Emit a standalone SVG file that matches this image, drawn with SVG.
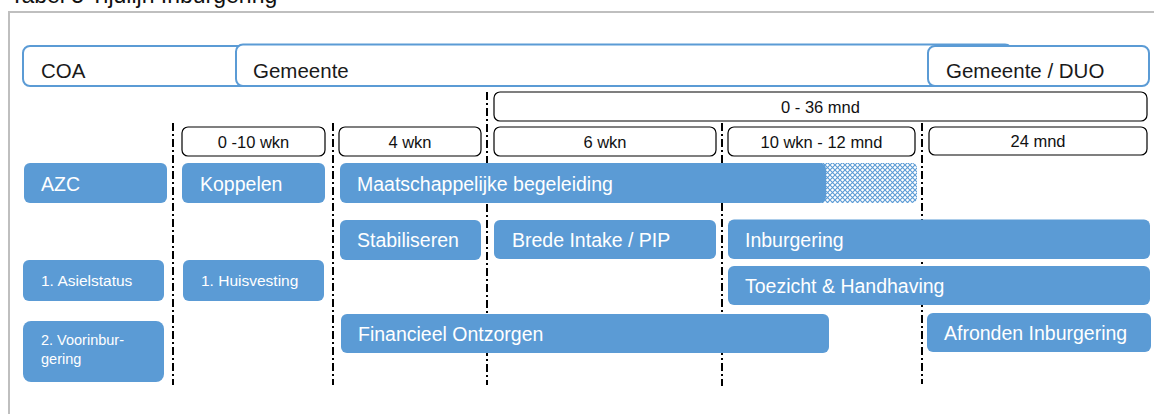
<svg xmlns="http://www.w3.org/2000/svg" width="1154" height="414" viewBox="0 0 1154 414">
<style>
text{font-family:"Liberation Sans",Arial,sans-serif}
.hdr{fill:#fff;stroke:#5B9BD5;stroke-width:2}
.hdrt{font-size:20.5px;fill:#1a1a1a}
.tb{fill:#fff;stroke:#000;stroke-width:1.2}
.tbt{font-size:16.5px;fill:#111;text-anchor:middle}
.bx{fill:#5B9BD5}
.bt{font-size:19.5px;fill:#fff}
.bs{font-size:15.5px;fill:#fff}
.bxs{font-size:14.5px;fill:#fff}
.sep{stroke:#000;stroke-width:2;stroke-dasharray:8 3 2 3;fill:none}
</style>
<defs>
<pattern id="hatch" width="5" height="5" patternUnits="userSpaceOnUse">
<path d="M0,0L5,5M5,0L0,5" stroke="#5B9BD5" stroke-width="1.1"/>
</pattern>
</defs>
<rect width="1154" height="414" fill="#fff"/>
<text x="10" y="3" style="font-size:23px;fill:#111">Tabel 5 Tijdlijn Inburgering</text>
<path d="M9,414V12H1154" fill="none" stroke="#BFBFBF" stroke-width="2"/>

<g id="header-coa"><rect class="hdr" x="23" y="46" width="260" height="40" rx="7"/><text class="hdrt" x="41" y="78">COA</text></g>
<g id="header-gemeente"><rect class="hdr" x="236" y="44.5" width="776" height="41.5" rx="7"/><text class="hdrt" x="253" y="78">Gemeente</text></g>
<g id="header-duo"><rect class="hdr" x="928" y="46" width="221" height="40" rx="7"/><text class="hdrt" x="946" y="78">Gemeente / DUO</text></g>

<g id="connectors">
<line class="sep" x1="173" y1="123" x2="173" y2="385"/>
<line class="sep" x1="333" y1="123" x2="333" y2="385"/>
<line class="sep" x1="487" y1="92" x2="487" y2="385"/>
<line class="sep" x1="722" y1="123" x2="722" y2="386"/>
<line class="sep" x1="922" y1="123" x2="922" y2="384"/>
</g>

<g id="t-0-36"><rect class="tb" x="494" y="92" width="653" height="29" rx="6"/><text class="tbt" x="820.5" y="112.5">0 - 36 mnd</text></g>
<g id="t-0-10"><rect class="tb" x="182" y="127" width="143" height="29" rx="6"/><text class="tbt" x="253.5" y="147.5">0 -10 wkn</text></g>
<g id="t-4"><rect class="tb" x="339" y="127" width="142" height="29" rx="6"/><text class="tbt" x="410" y="147.5">4 wkn</text></g>
<g id="t-6"><rect class="tb" x="494" y="127" width="222" height="29" rx="6"/><text class="tbt" x="605" y="147.5">6 wkn</text></g>
<g id="t-10-12"><rect class="tb" x="728" y="127" width="187" height="29" rx="6"/><text class="tbt" x="821.5" y="147.5">10 wkn - 12 mnd</text></g>
<g id="t-24"><rect class="tb" x="929" y="127" width="218" height="28" rx="6"/><text class="tbt" x="1038" y="147">24 mnd</text></g>

<g id="azc"><rect class="bx" x="24" y="163" width="143" height="40" rx="6"/><text class="bt" x="41" y="190.5">AZC</text></g>
<g id="koppelen"><rect class="bx" x="182" y="163" width="143" height="40" rx="6"/><text class="bt" x="200" y="190.5">Koppelen</text></g>
<g id="maatschappelijke-begeleiding">
<rect x="815" y="163" width="102" height="40" rx="5" fill="url(#hatch)"/>
<rect class="bx" x="340" y="163" width="486" height="40" rx="6"/>
<text class="bt" x="357" y="190.5">Maatschappelijke begeleiding</text></g>
<g id="stabiliseren"><rect class="bx" x="340" y="220" width="141" height="40" rx="6"/><text class="bt" x="357" y="247">Stabiliseren</text></g>
<g id="brede-intake"><rect class="bx" x="494" y="220" width="222" height="39" rx="6"/><text class="bt" x="512" y="247">Brede Intake / PIP</text></g>
<g id="inburgering"><rect class="bx" x="728" y="219.5" width="422" height="39.5" rx="6"/><text class="bt" x="745" y="247">Inburgering</text></g>
<g id="toezicht"><rect class="bx" x="728" y="266" width="422" height="39" rx="6"/><text class="bt" x="745" y="293">Toezicht &amp; Handhaving</text></g>
<g id="asielstatus"><rect class="bx" x="23" y="260" width="141" height="41" rx="6"/><text class="bs" x="41" y="286">1. Asielstatus</text></g>
<g id="huisvesting"><rect class="bx" x="183" y="260" width="141" height="41" rx="6"/><text class="bs" x="201" y="286">1. Huisvesting</text></g>
<g id="voorinburgering"><rect class="bx" x="23" y="321" width="141" height="61" rx="8"/><text class="bxs" x="41" y="345">2. Voorinbur-</text><text class="bxs" x="41" y="364">gering</text></g>
<g id="financieel-ontzorgen"><rect class="bx" x="341" y="314" width="488" height="39" rx="6"/><text class="bt" x="358" y="341">Financieel Ontzorgen</text></g>
<g id="afronden-inburgering"><rect class="bx" x="927" y="313" width="224" height="39" rx="6"/><text class="bt" x="944" y="340">Afronden Inburgering</text></g>
</svg>
